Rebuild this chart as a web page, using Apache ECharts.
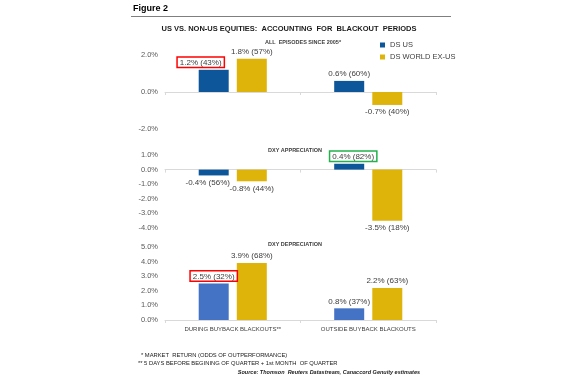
<!DOCTYPE html>
<html><head><meta charset="utf-8">
<script src="https://cdn.jsdelivr.net/npm/echarts@6/dist/echarts.min.js"></script>
<style>html,body{margin:0;padding:0;background:#fff}#c{width:570px;height:380px}</style>
</head><body><div id="c"></div>
<script>
const categories = ['DURING BUYBACK BLACKOUTS**', 'OUTSIDE BUYBACK BLACKOUTS'];
const seriesNames = ['DS US', 'DS WORLD EX-US'];
const panelTitles = ['ALL  EPISODES SINCE 2005*', 'DXY APPRECIATION', 'DXY DEPRECIATION'];
const allUS = [1.2, 0.6], allUSOdds = [43, 60];
const allWorld = [1.8, -0.7], allWorldOdds = [57, 40];
const appUS = [-0.4, 0.4], appUSOdds = [56, 82];
const appWorld = [-0.8, -3.5], appWorldOdds = [44, 18];
const depUS = [2.5, 0.8], depUSOdds = [32, 37];
const depWorld = [3.9, 2.2], depWorldOdds = [68, 63];
const axisRanges = [[-2, 2, 2], [-4, 1, 1], [0, 5, 1]];
const footnotes = ['* MARKET  RETURN (ODDS OF OUTPERFORMANCE)', '** 5 DAYS BEFORE BEGINING OF QUARTER + 1st MONTH  OF QUARTER'];
const sourceText = 'Source: Thomson  Reuters Datastream, Canaccord Genuity estimates';

const FONT = '"Liberation Sans", Arial, sans-serif';
const DARKBLUE = '#0C5699', GOLD = '#DEB40B', LIGHTBLUE = '#4472C4';
const grids = [{top: 55, height: 74}, {top: 155, height: 73}, {top: 247, height: 73}];
// special label boxes: [panel, series, index, color, offsetX]
const boxes = [[0, 0, 0, '#FF0000', -13], [1, 0, 1, '#22B14C', 4], [2, 0, 0, '#FF0000', 0]];
const labelOffsets = {'1-0-0': [-6, 0], '1-1-0': [0, 1]};

function makeData(vals, odds, p, s) {
  return vals.map((v, i) => {
    const lab = {
      show: true,
      position: v >= 0 ? 'top' : 'bottom',
      distance: 3,
      formatter: v.toFixed(1) + '% (' + odds[i] + '%)',
      fontSize: 8, color: '#404040', fontFamily: FONT
    };
    const key = p + '-' + s + '-' + i;
    if (labelOffsets[key]) lab.offset = labelOffsets[key];
    boxes.forEach(b => {
      if (b[0] === p && b[1] === s && b[2] === i) {
        lab.borderColor = b[3]; lab.borderWidth = 1.5; lab.padding = [1, 2, 0, 2];
        lab.backgroundColor = '#fff'; lab.offset = [b[4], 0];
      }
    });
    return {value: v, label: lab};
  });
}

const panels = [
  [[allUS, allUSOdds, DARKBLUE], [allWorld, allWorldOdds, GOLD]],
  [[appUS, appUSOdds, DARKBLUE], [appWorld, appWorldOdds, GOLD]],
  [[depUS, depUSOdds, LIGHTBLUE], [depWorld, depWorldOdds, GOLD]]
];

const option = {
  backgroundColor: '#fff',
  animation: false,
  grid: grids.map(g => ({left: 165, right: 134, top: g.top, height: g.height})),
  legend: {
    data: seriesNames, orient: 'vertical', left: 375, top: 36,
    itemWidth: 5, itemHeight: 5, itemGap: 4, icon: 'rect',
    textStyle: {fontSize: 7.5, color: '#404040', fontFamily: FONT}
  },
  xAxis: grids.map((g, i) => ({
    type: 'category', gridIndex: i, data: categories,
    axisLine: {show: true, onZero: true, lineStyle: {color: '#d9d9d9', width: 1}},
    axisTick: {show: true, length: 3, lineStyle: {color: '#d9d9d9'}},
    axisLabel: {show: i === 2, fontSize: 6, color: '#404040', fontFamily: FONT, margin: 6},
    splitLine: {show: false}
  })),
  yAxis: axisRanges.map((r, i) => ({
    type: 'value', gridIndex: i, min: r[0], max: r[1], interval: r[2],
    axisLine: {show: false}, axisTick: {show: false}, splitLine: {show: false},
    axisLabel: {fontSize: 7.5, color: '#595959', fontFamily: FONT, margin: 7,
      formatter: v => v.toFixed(1) + '%'}
  })),
  series: [],
  graphic: []
};

panels.forEach((pan, p) => {
  pan.forEach((sd, s) => {
    option.series.push({
      type: 'bar', name: seriesNames[s], xAxisIndex: p, yAxisIndex: p,
      barWidth: 30, barGap: '27%',
      itemStyle: {color: sd[2]},
      data: makeData(sd[0], sd[1], p, s)
    });
  });
});

const G = option.graphic;
G.push({type: 'text', left: 133, top: 4, style: {text: 'Figure 2', font: 'bold 9px ' + FONT, fill: '#000'}});
G.push({type: 'line', shape: {x1: 131, y1: 16.5, x2: 451, y2: 16.5}, style: {stroke: '#7f7f7f', lineWidth: 1}});
G.push({type: 'text', x: 289, y: 29, style: {text: 'US VS. NON-US EQUITIES:  ACCOUNTING  FOR  BLACKOUT  PERIODS', font: 'bold 7.5px ' + FONT, fill: '#1a1a1a', textAlign: 'center', textVerticalAlign: 'middle'}});
const subY = [42, 150, 244], subX = [303, 295, 295];
panelTitles.forEach((t, i) => {
  G.push({type: 'text', x: subX[i], y: subY[i], style: {text: t, font: 'bold 5.5px ' + FONT, fill: '#404040', textAlign: 'center', textVerticalAlign: 'middle'}});
});
G.push({type: 'text', x: 141, y: 355, style: {text: footnotes[0], font: '5.8px ' + FONT, fill: '#1a1a1a', textVerticalAlign: 'middle'}});
G.push({type: 'text', x: 138, y: 363, style: {text: footnotes[1], font: '5.8px ' + FONT, fill: '#1a1a1a', textVerticalAlign: 'middle'}});
G.push({type: 'text', x: 420, y: 372, style: {text: sourceText, font: 'italic bold 5.5px ' + FONT, fill: '#1a1a1a', textAlign: 'right', textVerticalAlign: 'middle'}});

const chart = echarts.init(document.getElementById('c'), null, {renderer: 'canvas'});
chart.setOption(option);
</script></body></html>
